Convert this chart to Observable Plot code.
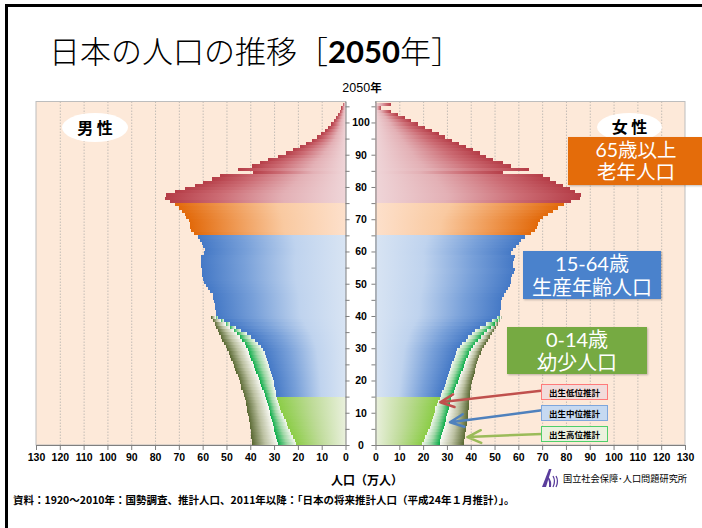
<!DOCTYPE html>
<html lang="ja"><head><meta charset="utf-8">
<script src="https://cdn.jsdelivr.net/npm/d3@7"></script>
<script src="https://cdn.jsdelivr.net/npm/@observablehq/plot@0.6"></script>
<style>
html,body{margin:0;padding:0;background:#fff;}
body{width:702px;height:528px;position:relative;overflow:hidden;font-family:"Noto Sans CJK JP",sans-serif;color:#000;}
#frame{position:absolute;left:5px;top:4px;width:760px;height:600px;border-left:3px solid #000;border-top:3px solid #000;}
#title{position:absolute;left:49px;top:31px;font-size:31px;line-height:38px;white-space:nowrap;font-weight:300;}
#title .num{font-family:Lato,sans-serif;font-weight:700;}
#sub{position:absolute;left:312px;width:100px;text-align:center;top:79px;font-size:12.5px;line-height:16px;font-family:"Liberation Sans",Arial,sans-serif;}
#sub b{font-family:"Noto Sans CJK JP";font-size:11.5px;}
#chart{position:absolute;left:0;top:95px;}
.ell{position:absolute;background:#fff;border-radius:50%;font-weight:bold;font-size:16px;text-align:center;}
.box{position:absolute;color:#fff;font-family:Lato,"Noto Sans CJK JP",sans-serif;text-align:center;box-shadow:1px 1px 2px rgba(0,0,0,0.25);display:flex;flex-direction:column;justify-content:center;}
.tag{position:absolute;left:541px;width:67px;height:16px;font-size:8.5px;font-weight:bold;text-align:center;line-height:14px;box-sizing:border-box;}
#xtitle{position:absolute;left:0;width:734px;text-align:center;top:472px;font-size:12px;font-weight:bold;line-height:16px;}
#cap{position:absolute;left:13px;top:492px;font-size:10.5px;font-weight:bold;line-height:15px;white-space:nowrap;}
#logo{position:absolute;left:540px;top:468px;display:flex;align-items:center;}
#logo span{font-size:9.2px;margin-left:3px;white-space:nowrap;}
</style></head>
<body>
<div id="frame"></div>
<div id="title">日本の人口の推移［<span class="num">2050</span>年］</div>
<div id="sub">2050<b>年</b></div>
<div id="chart"></div>
<div class="ell" style="left:62px;top:113px;width:66px;height:29px;line-height:29px;">男 性</div>
<div class="ell" style="left:597px;top:113px;width:65px;height:28px;line-height:26px;">女 性</div>
<div class="box" style="left:568px;top:137px;width:136px;height:48px;background:#e46c0a;font-size:19.5px;line-height:22px;">65歳以上<br>老年人口</div>
<div class="box" style="left:523px;top:251px;width:138px;height:48px;background:#4a82cc;font-size:20px;line-height:24px;">15-64歳<br>生産年齢人口</div>
<div class="box" style="left:507px;top:327px;width:140px;height:47px;background:#76aa42;font-size:20px;line-height:23px;">0-14歳<br>幼少人口</div>
<div class="tag" style="top:384px;background:#f2dcdb;border:1px solid #ff7a7a;">出生低位推計</div>
<div class="tag" style="top:405px;background:#c6d9f1;border:1px solid #7ea6dc;">出生中位推計</div>
<div class="tag" style="top:426px;background:#ebf1de;border:1px solid #4fcf6a;">出生高位推計</div>
<div id="xtitle">人口（万人）</div>
<div id="cap">資料：1920～2010年：国勢調査、推計人口、2011年以降：「日本の将来推計人口（平成24年１月推計）」。</div>
<div id="logo"><svg width="20" height="20" viewBox="0 0 20 20"><path d="M2 19 L9 1 L11.5 1 L6 19Z" fill="#5a3d9c"/><path d="M8.5 9 Q12 13 11 19 L9 19 Q9.5 13 7.5 10Z" fill="#5a3d9c"/><path d="M13 8 Q16 13 13 19" stroke="#5a3d9c" stroke-width="1.3" fill="none"/><path d="M16 8 Q19 13 16 19" stroke="#5a3d9c" stroke-width="1.3" fill="none"/></svg><span>国立社会保障･人口問題研究所</span></div>
<script>
// ---- data: population (万人) by single year of age, 2050 ----
const ages = d3.range(0, 106);
// ages 0-39: birth-low projection (inner bar); 40+: single projection
const maleMain = [20.7,21.4,22.1,22.8,23.4,24.0,24.6,25.2,25.8,26.4,
 26.9,27.4,27.9,28.4,28.8,29.1,29.4,29.7,30.0,30.2,
 30.5,30.9,31.2,31.7,32.1,32.6,33.0,33.4,33.9,34.6,
 35.6,36.8,38.0,39.5,41.5,43.8,46.2,48.5,51.0,53.5,
 54.2,54.5,54.8,55.0,55.2,55.5,55.8,56.8,57.7,58.5,
 59.3,60.0,60.2,60.2,60.3,60.5,60.8,60.8,60.5,59.5,
 59.2,60.0,60.3,61.0,61.9,63.5,65.0,65.2,65.4,65.8,
 66.8,67.5,68.8,70.0,71.5,73.8,75.9,75.2,71.7,67.5,
 63.3,59.8,55.9,52.8,38.9,45.2,39.1,36.1,32.6,28.4,
 25.0,22.0,19.3,16.6,14.2,12.0,10.2,8.6,7.2,6.0,
 5.0,4.0,3.2,2.5,1.8,1.2];
const femaleMain = [19.5,20.2,20.9,21.6,22.2,22.7,23.2,23.6,24.0,24.4,
 24.8,25.2,25.8,26.4,27.0,27.6,28.1,28.6,29.0,29.5,
 30.0,30.4,30.9,31.3,31.8,32.3,32.8,33.2,33.8,34.4,
 35.3,36.5,38.0,39.0,40.5,42.0,44.0,46.5,49.0,51.0,
 52.2,52.4,52.7,52.9,52.9,53.2,53.8,55.0,55.5,56.4,
 56.8,57.1,57.5,58.3,58.5,57.8,57.8,58.0,58.5,57.1,
 57.8,59.2,60.2,61.3,62.7,65.5,67.0,68.0,68.3,69.0,
 70.5,72.5,74.6,76.7,79.0,82.3,86.1,86.5,83.7,81.6,
 78.8,76.0,73.2,70.4,53.6,64.5,57.0,53.5,49.5,46.6,
 43.7,40.8,38.0,35.1,32.3,29.4,26.5,23.7,20.8,18.0,
 15.1,12.3,9.4,6.6,2.5,6.6];
// ages 0-39: birth-medium and birth-high projections
const maleMid = [28.4,28.8,29.2,29.6,29.9,30.2,30.6,30.9,31.2,31.6,
 31.9,32.3,32.6,33.0,33.3,33.8,34.3,34.9,35.4,35.9,
 36.4,36.9,37.4,37.9,38.5,39.0,39.6,40.1,40.6,41.1,
 41.6,42.4,43.4,44.4,45.6,47.0,48.6,50.4,52.4,54.5];
const maleHigh = [39.1,39.3,39.5,39.7,39.9,40.1,40.3,40.5,40.7,40.9,
 41.2,41.4,41.6,42.0,42.4,42.8,43.2,43.7,44.1,44.5,
 44.9,45.3,45.8,46.3,46.9,47.4,47.9,48.4,49.0,49.7,
 50.4,51.0,51.7,52.4,53.0,53.6,54.3,54.9,55.6,56.3];
const femaleMid = [26.9,27.3,27.7,28.1,28.5,28.8,29.1,29.5,29.8,30.2,
 30.5,30.8,31.1,31.5,31.8,32.3,32.8,33.3,33.9,34.5,
 35.0,35.5,36.1,36.6,37.1,37.6,38.2,38.8,39.4,40.2,
 41.0,42.0,43.0,44.2,45.6,47.0,48.5,50.0,51.5,52.5];
const femaleHigh = [37.0,37.3,37.6,37.8,38.0,38.2,38.4,38.5,38.7,38.8,
 38.9,39.1,39.2,39.4,39.5,39.7,39.9,40.0,40.2,40.5,
 40.8,41.2,41.6,42.0,42.4,42.8,43.1,43.6,44.2,44.8,
 45.6,46.3,47.2,48.1,49.0,49.8,50.6,51.5,52.4,53.3];
const xTickLabels = [0,10,20,30,40,50,60,70,80,90,100,110,120,130];
const ageLabels = [0,10,20,30,40,50,60,70,80,90,100];
const ageTicks = [0,5,10,15,20,25,30,35,40,45,50,55,60,65,70,75,80,85,90,95,100,105];
// arrows from projection tags (female side, value in 万人 / age)
const arrowNotes = [
  {v1: 69.3, a1: 17.0, v2: 27.0, a2: 13.4},
  {v1: 69.7, a1: 10.9, v2: 31.1, a2: 7.2},
  {v1: 69.7, a1: 3.6,  v2: 38.4, a2: 2.6}
];

// ---- layout ----
const G = 6.3;            // half gap between panels (x units)
const XMAX = 130, YTOP = 106.5;
const groupOf = a => a < 15 ? "green" : a < 65 ? "blue" : a < 75 ? "orange" : "red";
const rows = ages.map(a => ({age: a, m: maleMain[a], f: femaleMain[a], group: groupOf(a)}));
const bands = ages.slice(0, 40).map(a => ({age: a, mLow: maleMain[a], mMid: maleMid[a], mHigh: maleHigh[a],
  fLow: femaleMain[a], fMid: femaleMid[a], fHigh: femaleHigh[a]}));
const panels = [{x1: -(G + XMAX), x2: -G}, {x1: G, x2: G + XMAX}];
const gridVals = xTickLabels.filter(k => k > 0 && k < XMAX);
const gridX = [...gridVals.map(k => -(G + k)), ...gridVals.map(k => G + k)];
const axisTicks = [...xTickLabels.map(k => -(G + k)), ...xTickLabels.map(k => G + k)];

const barStyle = {y1: r => r.age, y2: r => r.age + 1, shapeRendering: "crispEdges"};
const barMarks = [];
for (const g of ["green", "blue", "orange", "red"]) {
  const d = rows.filter(r => r.group === g);
  barMarks.push(Plot.rect(d, {...barStyle, x1: () => -G, x2: r => -G - r.m, fill: `url(#g-${g}-m)`}));
  barMarks.push(Plot.rect(d, {...barStyle, x1: () => G, x2: r => G + r.f, fill: `url(#g-${g}-f)`}));
}
const arrowColors = ["#c0504d", "#4f81bd", "#9bbb59"];

const axisFont = {fontFamily: "Liberation Sans, Arial, sans-serif", fontWeight: "bold", fontSize: 10.5};

const svg = Plot.plot({
  width: 702, height: 380,
  marginLeft: 36, marginRight: 17, marginTop: 6.5, marginBottom: 30,
  x: {domain: [-(G + XMAX), G + XMAX], axis: null},
  y: {domain: [0, YTOP], axis: null},
  style: {background: "transparent", overflow: "visible"},
  marks: [
    Plot.rect(panels, {x1: "x1", x2: "x2", y1: () => 0, y2: () => YTOP, fill: "#fde9d9", stroke: "#bdbdbd", strokeWidth: 1}),
    Plot.ruleX(gridX, {x: d => d, y1: () => 0, y2: () => YTOP, stroke: "#c4bdb6", strokeDasharray: "1.5,1.5", strokeWidth: 1}),
    ...barMarks,
    Plot.rect(bands, {...barStyle, x1: r => -G - r.mLow, x2: r => -G - r.mMid, fill: "url(#g-band1-m)"}),
    Plot.rect(bands, {...barStyle, x1: r => -G - r.mMid, x2: r => -G - r.mHigh, fill: "url(#g-band2-m)"}),
    Plot.rect(bands, {...barStyle, x1: r => G + r.fLow, x2: r => G + r.fMid, fill: "url(#g-band1-f)"}),
    Plot.rect(bands, {...barStyle, x1: r => G + r.fMid, x2: r => G + r.fHigh, fill: "url(#g-band2-f)"}),
    Plot.ruleY(panels, {y: () => 0, x1: "x1", x2: "x2", stroke: "#7f7f7f"}),
    Plot.ruleX([-G, G], {x: d => d, y1: () => 0, y2: () => YTOP, stroke: "#7f7f7f"}),
    Plot.ruleY(ageTicks, {y: d => d, x1: () => -G, x2: () => -G + 1.7, stroke: "#7f7f7f"}),
    Plot.ruleY(ageTicks, {y: d => d, x1: () => G - 1.7, x2: () => G, stroke: "#7f7f7f"}),
    Plot.text(ageLabels, {x: () => 0, y: d => d, text: d => `${d}`, ...axisFont, fill: "#000"}),
    Plot.axisX(axisTicks, {tickFormat: d => `${Math.round(Math.abs(d) - G)}`, tickSize: 5, tickPadding: 3,
      stroke: "#7f7f7f", fill: "#000", label: null, ...axisFont}),
    ...arrowNotes.map((n, i) => Plot.arrow([n], {x1: d => G + d.v1, y1: d => d.a1, x2: d => G + d.v2, y2: d => d.a2,
      stroke: arrowColors[i], strokeWidth: 2.5, headLength: 9, headAngle: 50}))
  ]
});

// gradient fills (dark at the outer end of each bar)
const grads = {
  red:    [[0, "#b53d47"], [0.3, "#cc6c74"], [0.65, "#e3b0b5"], [1, "#efd5d8"]],
  orange: [[0, "#e2690a"], [0.3, "#ef9a55"], [0.6, "#f9c9a0"], [1, "#fde0cb"]],
  blue:   [[0, "#4579c6"], [0.3, "#78a0d9"], [0.65, "#bfd3ee"], [1, "#d8e4f3"]],
  green:  [[0, "#8ccd48"], [0.5, "#bedb98"], [1, "#e9f0dc"]],
  band1:  [[0, "#0fae4c"], [0.5, "#9fd7a6"], [1, "#f3f7ee"]],
  band2:  [[0, "#5b6a34"], [0.5, "#bcc1a2"], [1, "#f8f9f3"]]
};
const defs = d3.select(svg).insert("defs", ":first-child");
for (const [name, stops] of Object.entries(grads)) {
  for (const side of ["m", "f"]) {
    const lg = defs.append("linearGradient").attr("id", `g-${name}-${side}`)
      .attr("x1", side === "m" ? 0 : 1).attr("x2", side === "m" ? 1 : 0).attr("y1", 0).attr("y2", 0);
    for (const [o, c] of stops) lg.append("stop").attr("offset", o).attr("stop-color", c);
  }
}
document.getElementById("chart").appendChild(svg);
</script>
</body></html>
